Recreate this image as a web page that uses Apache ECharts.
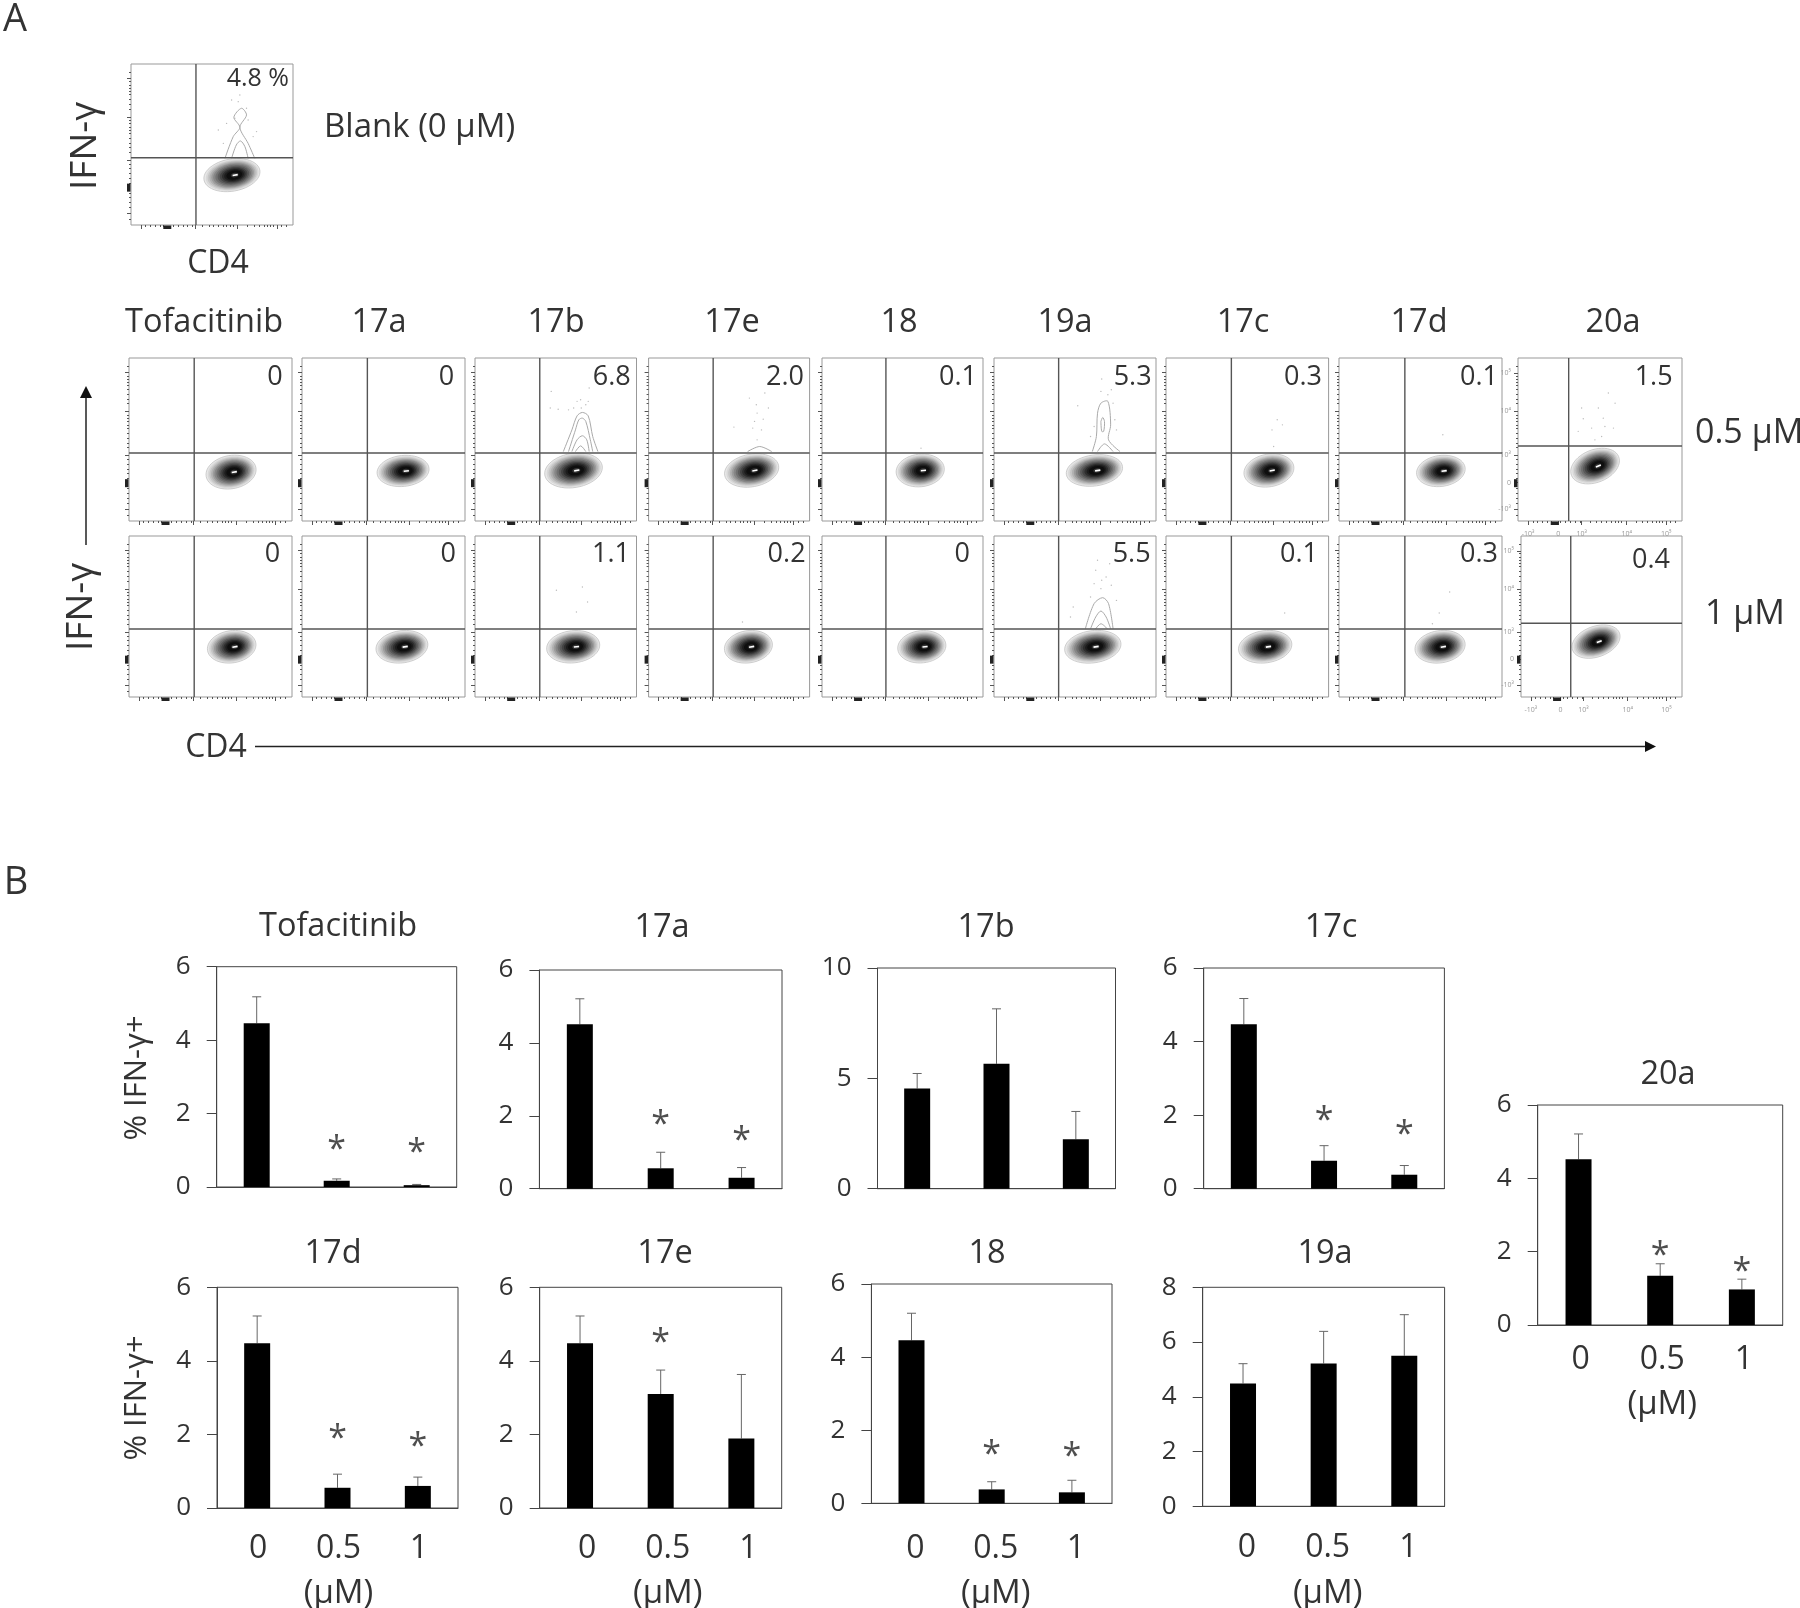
<!DOCTYPE html>
<html>
<head>
    <meta charset="utf-8">
    <title>IFN-γ CD4 flow plots and bar charts</title>
    <script src="https://cdn.jsdelivr.net/npm/echarts@6.0.0/dist/echarts.min.js"></script>
    <style>
        html, body { margin: 0; background: #fff; }
        #chart { width: 1800px; height: 1608px; filter: blur(0.5px); }
    </style>
</head>
<body>
    <div id="chart"></div>
    <script>
        // ---- panel B: bars (% IFN-γ+) ----
        const doseLabels = ['0', '0.5', '1'];
        const barNames = ['Tofacitinib', '17a', '17b', '17c', '17d', '17e', '18', '19a', '20a'];
        const barMeans = [
            [4.46, 0.17, 0.05], [4.51, 0.56, 0.30], [4.54, 5.66, 2.24],
            [4.47, 0.76, 0.38], [4.48, 0.55, 0.60], [4.48, 3.10, 1.89],
            [4.46, 0.38, 0.30], [4.49, 5.22, 5.50], [4.52, 1.34, 0.97]
        ];
        const barErrTops = [
            [5.18, 0.22, 0.07], [5.21, 1.00, 0.58], [5.22, 8.15, 3.50],
            [5.17, 1.17, 0.63], [5.22, 0.92, 0.84], [5.22, 3.75, 3.63],
            [5.20, 0.59, 0.63], [5.21, 6.39, 7.00], [5.21, 1.67, 1.25]
        ];
        const barStars = [
            [null, 1.18, 1.10], [null, 1.93, 1.49], [null, null, null],
            [null, 2.02, 1.64], [null, 2.07, 1.85], [null, 4.66, null],
            [null, 1.51, 1.44], [null, null, null], [null, 2.06, 1.64]
        ];
        const barYMax = [6, 6, 10, 6, 6, 6, 6, 8, 6];
        const barYStep = [2, 2, 5, 2, 2, 2, 2, 2, 2];

        // ---- panel A: flow plots, axes run 0-100 across each plot ----
        const flowValues = ['4.8 %',
            '0', '0', '6.8', '2.0', '0.1', '5.3', '0.3', '0.1', '1.5',
            '0', '0', '1.1', '0.2', '0', '5.5', '0.1', '0.3', '0.4'];
        const flowGateX = [40.1,
            40, 40.1, 40.1, 40.1, 39.7, 39.9, 40.2, 40.4, 30.9,
            40, 40.1, 40.1, 40.1, 39.7, 39.9, 40.2, 40.4, 30.9];
        const flowGateY = [41.8,
            41.7, 41.7, 41.7, 41.7, 41.7, 41.7, 41.7, 41.7, 46,
            42.2, 42.2, 42.2, 42.2, 42.2, 42.2, 42.2, 42.2, 45.8];
        const blobCx = [62.3,
            62.6, 62, 61, 64, 61, 62, 63.3, 62.5, 47,
            63, 61.3, 60.8, 62, 62, 61, 61, 62, 46.6];
        const blobCy = [31,
            30, 30.7, 31, 31, 31, 31, 31, 30.7, 33.7,
            31.2, 31.2, 31.2, 31.2, 31.2, 31.2, 31.2, 31.2, 34.4];
        const blobRx = [17.5,
            15.5, 16, 18, 17, 15, 17.5, 15.5, 15, 15.5,
            15, 16, 16.5, 15, 15, 17.5, 16.5, 15.5, 15.5];
        const blobRy = [10,
            10.2, 9.5, 10.5, 10, 10, 9.5, 10, 9.5, 10,
            10, 10, 10, 10, 10, 10, 10, 10, 9.5];
        const blobTilt = [10,
            10, 6, 9, 10, 6, 8, 10, 8, 22,
            9, 8, 6, 9, 6, 8, 8, 9, 20];
        const valueLabelX = [97.5,
            94.3, 93.3, 96.4, 96.5, 96.3, 97.3, 95.9, 97.5, 94.3,
            92.8, 94.5, 96, 97.5, 91.9, 96.7, 93.5, 97.5, 92.5];
        const valueLabelY = [90.7,
            88, 88, 88, 88, 88, 88, 88, 88, 88,
            88.4, 88.4, 88.4, 88.4, 88.4, 88.4, 88.4, 88.4, 84.7];

        // contour loops above the gate: panel index -> loops of [x, y]
        const tailLoops = {
            0: [
                [[58, 41.4], [63.1, 54.9], [67.2, 60.7], [63.5, 66.9], [68.2, 72.5], [71.3, 68.3], [67.2, 60.7], [72.3, 50.7], [76.4, 41.4]],
                [[62.1, 41.4], [65, 49.7], [67.6, 52.2], [70.3, 48.7], [72.3, 41.4]]
            ],
            3: [
                [[54.7, 42.6], [60, 55.9], [63.2, 64.5], [66.5, 66.6], [70.1, 64.5], [72.9, 51.8], [76.1, 42.6]],
                [[57.9, 42.6], [62.2, 55.9], [64.3, 62.1], [66.5, 63.1], [68.6, 61.1], [71.4, 49.8], [72.9, 42.6]],
                [[60, 42.6], [63.2, 49.8], [66.5, 52.3], [69.2, 49.8], [70.7, 42.6]],
                [[62.2, 42.6], [65.4, 46.1], [68.6, 42.6]]
            ],
            4: [[[61.5, 42.6], [69, 45.7], [76.5, 42.6]]],
            6: [
                [[60.7, 42.6], [63.2, 51.8], [63.9, 66.1], [66, 72.3], [70.3, 73.4], [72, 59], [70.7, 49.8], [77.8, 42.6]],
                [[66, 61.1], [67.1, 63.5], [68.2, 61.1], [67.7, 55], [66.5, 55], [66, 61.1]],
                [[63.9, 42.6], [68.2, 47.3], [73.5, 42.6]]
            ],
            15: [
                [[56.4, 42.4], [61.8, 58], [67.1, 61.7], [70.7, 58], [73.5, 42.4]],
                [[59.6, 42.4], [62.8, 49.7], [66, 53.4], [69.2, 49.7], [72, 42.4]],
                [[62.8, 42.4], [66, 45.5], [69.9, 42.4]]
            ]
        };
        // sparse events above the gate: panel index -> [x, y]
        const flowDots = {
            0: [[67.2, 80.7], [62.1, 77.6], [71.3, 72.5], [64.1, 66.3], [53.9, 59], [77.5, 58], [59, 63.1], [72.3, 65.2], [66.2, 76.6], [75.4, 54.9], [57, 50.7]],
            3: [[47.2, 79.5], [46.6, 69.3], [51.5, 68.6], [57.9, 68.2], [65.4, 74.4], [65.8, 69.3], [70.7, 81.6], [70.1, 73.4], [63.2, 73.4], [68.6, 71.3], [61.1, 69.3]],
            4: [[62.6, 75.4], [72.2, 78.5], [66.9, 71.3], [67.4, 66.2], [71.2, 62.5], [65.8, 61.1], [53, 57.6], [70.1, 55.9], [67.4, 49.8], [64.7, 57], [74.4, 69.3]],
            5: [[61.5, 44.7]],
            6: [[66.5, 87.1], [66, 79.5], [72.4, 80.5], [70.3, 77.5], [73.5, 72.3], [51.7, 70.7], [61.8, 58], [74.6, 62.1], [59.6, 51.8], [75.6, 55.9]],
            7: [[68.4, 62.1], [65.2, 55.9], [71.6, 59], [66.2, 45.7]],
            8: [[63.7, 52.9]],
            9: [[55.1, 78.5], [59.2, 72.3], [49, 69.3], [52, 63.1], [39.8, 62.7], [44.9, 57], [53, 58], [36.7, 55], [58.2, 57], [51, 51.8], [46.9, 49.8], [38.8, 69.3]],
            12: [[50.4, 66.3], [66.5, 68.3], [69.7, 59], [62.8, 52.8]],
            13: [[58.3, 46.6]],
            15: [[63.9, 84.9], [71.4, 82.8], [62.8, 78.7], [66.5, 72.5], [69.2, 74.5], [61.8, 70.4], [66, 67.3], [72.4, 69.4], [59.6, 62.1], [48.9, 55.9], [75.6, 60], [47.2, 49.7]],
            16: [[73, 52.2]],
            17: [[67.9, 65.2], [61.5, 52.2], [57.3, 45.5]]
        };

        const xMajorTicks = [6.1, 39.5, 65.7, 90];
        const yMajorTicks = [7.2, 40.2, 67.2, 91.2];
        const xMinorTicks = [9, 12, 15, 18, 20, 26, 29, 32, 35, 38, 44, 48, 51, 54, 57, 59, 61, 63, 72, 76, 79, 82, 84, 86, 88, 93, 96];
        const yMinorTicks = [3.5, 11, 14, 17, 20, 26, 29, 32, 35, 38, 45, 48, 51, 54, 57, 59, 61, 63, 65, 72, 75, 78, 81, 83, 85, 87, 89, 95];
        const zeroSpotX = 22.4;
        const zeroSpotY = 23.2;
        const logTickX = [6.1, 24.5, 38.8, 66.3, 90.4];
        const logTickXLabels = ['-10³', '0', '10³', '10⁴', '10⁵'];
        const logTickY = [7.2, 23.5, 40.2, 67.2, 90.8];
        const logTickYLabels = ['-10³', '0', '10³', '10⁴', '10⁵'];

        // contour rings, outermost first
        const ringScales = [1, 0.94, 0.88, 0.82, 0.76, 0.7, 0.63, 0.56, 0.49, 0.42, 0.35, 0.28, 0.14];
        const ringShades = ['#e8e8e8', '#d8d8d8', '#c6c6c6', '#b2b2b2', '#9c9c9c', '#868686', '#707070', '#5a5a5a', '#444', '#2e2e2e', '#1c1c1c', '#0e0e0e', '#333'];

        // [left, top, width, height] of each plot
        const flowBoxes = [
            [131, 64, 162, 161],
            [129, 358, 163, 163], [302, 358, 163, 163], [475, 358, 161.5, 163], [648.6, 358, 161, 163], [822, 358, 161, 163],
            [994, 358, 162, 163], [1166, 358, 162.6, 163], [1339, 358, 163, 163], [1518, 358, 164, 163],
            [129, 536, 163, 161], [302, 536, 163, 161], [475, 536, 161.5, 161], [648.6, 536, 161, 161], [822, 536, 161, 161],
            [994, 536, 162, 161], [1166, 536, 162.6, 161], [1339, 536, 163, 161], [1521, 536, 161, 161]
        ];
        const barBoxes = [
            [216.7, 966.7, 240, 220.3], [539.4, 970, 242.6, 218.7], [877.5, 968, 238, 220.7], [1203.7, 968, 240.7, 220.7],
            [217, 1287.3, 241, 220.7], [539.7, 1287.3, 242, 220.7], [871.4, 1284, 240.6, 219.3], [1202.7, 1287.3, 241.9, 219],
            [1537.7, 1105, 245, 220]
        ];
        // only these plots carry dose labels: plot index -> [label shift, label margin, name gap]
        const doseAxisStyle = {
            4: [1, 24.5, 69], 5: [7, 24.5, 69], 6: [4, 29.5, 74], 7: [4, 26, 71], 8: [2, 18.5, 63]
        };

        const FONT = '"Open Sans", "Noto Sans", sans-serif';
        const TEXT = '#333';

        const grid = [], xAxis = [], yAxis = [], series = [], graphic = [];

        function ellipsePoints(api, cx, cy, rx, ry, tilt) {
            const pts = [];
            const a = tilt * Math.PI / 180;
            for (let k = 0; k < 48; k++) {
                const t = k / 48 * 2 * Math.PI;
                const dx = rx * Math.cos(t), dy = ry * Math.sin(t);
                pts.push(api.coord([cx + dx * Math.cos(a) - dy * Math.sin(a), cy + dx * Math.sin(a) + dy * Math.cos(a)]));
            }
            return pts;
        }

        function renderFlow(i, api) {
            const kids = [];
            // dots and upper contours go under the gate lines
            (flowDots[i] || []).forEach(function (d) {
                const p = api.coord(d);
                kids.push({ type: 'circle', shape: { cx: p[0], cy: p[1], r: 0.7 }, style: { fill: '#bbb' } });
            });
            (tailLoops[i] || []).forEach(function (loop) {
                kids.push({
                    type: 'polyline',
                    shape: { points: loop.map(function (p) { return api.coord(p); }), smooth: 0.3 },
                    style: { fill: null, stroke: '#aaa', lineWidth: 1 }
                });
            });
            const a = blobTilt[i] * Math.PI / 180;
            const coreX = blobCx[i] + 2, coreY = blobCy[i];
            ringScales.forEach(function (s, r) {
                const cx = coreX + (blobCx[i] - coreX) * s;
                kids.push({
                    type: 'polygon',
                    shape: { points: ellipsePoints(api, cx, blobCy[i], blobRx[i] * s, blobRy[i] * s, blobTilt[i]) },
                    style: { fill: ringShades[r], stroke: r === 0 ? '#c4c4c4' : null, lineWidth: 0.8 }
                });
            });
            const c0 = api.coord([coreX - 1.6 * Math.cos(a), coreY - 1.6 * Math.sin(a)]);
            const c1 = api.coord([coreX + 1.6 * Math.cos(a), coreY + 1.6 * Math.sin(a)]);
            kids.push({ type: 'line', shape: { x1: c0[0], y1: c0[1], x2: c1[0], y2: c1[1] }, style: { stroke: '#fff', lineWidth: 1.6 } });

            const v0 = api.coord([flowGateX[i], 0]), v1 = api.coord([flowGateX[i], 100]);
            const h0 = api.coord([0, flowGateY[i]]), h1 = api.coord([100, flowGateY[i]]);
            kids.push({ type: 'line', shape: { x1: v0[0], y1: v0[1], x2: v1[0], y2: v1[1] }, style: { stroke: '#555', lineWidth: 1.4 } });
            kids.push({ type: 'line', shape: { x1: h0[0], y1: h0[1], x2: h1[0], y2: h1[1] }, style: { stroke: '#555', lineWidth: 1.4 } });

            // the pile-up of ticks at zero on both axes
            const sx = api.coord([zeroSpotX, 0]), sy = api.coord([0, zeroSpotY]);
            kids.push({ type: 'rect', shape: { x: sx[0] - 4, y: sx[1] + 0.5, width: 8, height: 3.5 }, style: { fill: '#222' } });
            kids.push({ type: 'rect', shape: { x: sy[0] - 4, y: sy[1] - 4, width: 3.5, height: 8 }, style: { fill: '#222' } });

            const lp = api.coord([valueLabelX[i], valueLabelY[i]]);
            kids.push({
                type: 'text', x: lp[0], y: lp[1],
                style: { text: flowValues[i], align: 'right', verticalAlign: 'middle', fontSize: i === 0 ? 25 : 27, fontFamily: FONT, fill: TEXT }
            });
            return { type: 'group', children: kids };
        }

        flowBoxes.forEach(function (box, i) {
            const g = grid.length;
            const lastCol = i === 9 || i === 18;
            grid.push({
                left: box[0], top: box[1], width: box[2], height: box[3],
                show: true, borderColor: '#999', borderWidth: 1, backgroundColor: '#fff',
                containLabel: false, outerBoundsMode: 'none'
            });
            const xTicks = lastCol ? logTickX : xMajorTicks;
            const yTicks = lastCol ? logTickY : yMajorTicks;
            [0, 1].forEach(function (minor) {
                xAxis.push({
                    gridIndex: g, type: 'value', min: 0, max: 100, position: 'bottom',
                    splitLine: { show: false }, axisLine: { show: false },
                    axisTick: {
                        show: true, length: minor ? 2 : 4, lineStyle: { color: '#555', width: 1 },
                        customValues: minor ? xMinorTicks : xTicks
                    },
                    axisLabel: (lastCol && !minor) ? {
                        show: true, customValues: logTickX, margin: 9, fontSize: 7, color: '#999', fontFamily: FONT,
                        formatter: function (v) { return logTickXLabels[logTickX.indexOf(v)]; }
                    } : { show: false }
                });
                yAxis.push({
                    gridIndex: g, type: 'value', min: 0, max: 100, position: 'left',
                    splitLine: { show: false }, axisLine: { show: false },
                    axisTick: {
                        show: true, length: minor ? 2 : 4, lineStyle: { color: '#555', width: 1 },
                        customValues: minor ? yMinorTicks : yTicks
                    },
                    axisLabel: (lastCol && !minor) ? {
                        show: true, customValues: logTickY, margin: 7, fontSize: 7, color: '#999', fontFamily: FONT,
                        formatter: function (v) { return logTickYLabels[logTickY.indexOf(v)]; }
                    } : { show: false }
                });
            });
            series.push({
                type: 'custom', xAxisIndex: xAxis.length - 2, yAxisIndex: yAxis.length - 2,
                coordinateSystem: 'cartesian2d', silent: true, clip: false,
                data: [[blobCx[i], blobCy[i]]],
                renderItem: function (params, api) { return renderFlow(i, api); }
            });
        });

        barNames.forEach(function (name, i) {
            const box = barBoxes[i];
            const g = grid.length;
            const dose = doseAxisStyle[i];
            grid.push({
                left: box[0], top: box[1], width: box[2], height: box[3],
                show: true, borderColor: '#444', borderWidth: 1,
                containLabel: false, outerBoundsMode: 'none'
            });
            xAxis.push({
                gridIndex: g, type: 'category', data: doseLabels,
                axisLine: { lineStyle: { color: '#444', width: 1 } },
                axisTick: { show: false },
                axisLabel: dose ? {
                    show: true, margin: dose[1], fontSize: 32, color: TEXT, fontFamily: FONT,
                    padding: [0, 0, 0, dose[0] * 2]
                } : { show: false },
                name: dose ? '(μM)' : '', nameLocation: 'middle', nameGap: dose ? dose[2] : 0,
                nameTextStyle: { fontSize: 33, color: TEXT, fontFamily: FONT, padding: dose ? [0, 0, 0, dose[0] * 2] : 0 }
            });
            yAxis.push({
                gridIndex: g, type: 'value', min: 0, max: barYMax[i], interval: barYStep[i],
                splitLine: { show: false },
                axisLine: { show: true, lineStyle: { color: '#444', width: 1 } },
                axisTick: { show: true, length: 10, lineStyle: { color: '#444', width: 1 } },
                axisLabel: { margin: 26, fontSize: 26, color: TEXT, fontFamily: FONT, padding: [8, 0, 0, 0] }
            });
            const xi = xAxis.length - 1, yi = yAxis.length - 1;
            series.push({
                type: 'bar', xAxisIndex: xi, yAxisIndex: yi, barWidth: 26, silent: true,
                itemStyle: { color: '#000' }, data: barMeans[i]
            });
            series.push({
                type: 'custom', xAxisIndex: xi, yAxisIndex: yi, silent: true,
                data: barMeans[i].map(function (m, k) { return [k, barErrTops[i][k], m]; }),
                renderItem: function (params, api) {
                    const top = api.coord([api.value(0), api.value(1)]);
                    const bottom = api.coord([api.value(0), api.value(2)]);
                    const line = { stroke: '#666', lineWidth: 1 };
                    return {
                        type: 'group', children: [
                            { type: 'line', shape: { x1: top[0], y1: top[1], x2: bottom[0], y2: bottom[1] }, style: line },
                            { type: 'line', shape: { x1: top[0] - 4.5, y1: top[1], x2: top[0] + 4.5, y2: top[1] }, style: line }
                        ]
                    };
                }
            });
            series.push({
                type: 'scatter', xAxisIndex: xi, yAxisIndex: yi, silent: true, symbolSize: 1,
                itemStyle: { color: 'transparent' },
                data: barStars[i].map(function (v, k) { return v === null ? null : [k, v]; }).filter(Boolean),
                label: {
                    show: true, position: 'inside', formatter: '*', offset: [0, 7],
                    fontSize: 34, color: '#222', fontFamily: FONT
                }
            });
        });

        function addText(text, x, y, size, opts) {
            opts = opts || {};
            graphic.push({
                type: 'text', x: x, y: y, rotation: opts.rotation || 0, silent: true,
                style: {
                    text: text, fontSize: size, fontFamily: FONT, fill: TEXT,
                    align: opts.align || 'center', verticalAlign: 'middle'
                }
            });
        }
        function addArrow(x1, y1, x2, y2) {
            const horizontal = y1 === y2;
            graphic.push({ type: 'line', silent: true, shape: { x1: x1, y1: y1, x2: horizontal ? x2 - 8 : x2, y2: horizontal ? y2 : y2 + 8 }, style: { stroke: '#222', lineWidth: 1.5 } });
            graphic.push({
                type: 'polygon', silent: true,
                shape: { points: horizontal ? [[x2, y2], [x2 - 11, y2 - 5.5], [x2 - 11, y2 + 5.5]] : [[x2, y2], [x2 - 6, y2 + 12], [x2 + 6, y2 + 12]] },
                style: { fill: '#111' }
            });
        }

        addText('A', 15, 20, 38);
        addText('B', 16, 883, 38);
        addText('IFN-γ', 85, 146, 37, { rotation: Math.PI / 2 });
        addText('CD4', 218, 264, 32);
        addText('Blank (0 μM)', 324, 128, 33, { align: 'left' });
        addText('IFN-γ', 81, 607, 37, { rotation: Math.PI / 2 });
        addText('CD4', 216, 748, 32);
        addText('0.5 μM', 1695, 433, 34, { align: 'left' });
        addText('1 μM', 1705, 614, 34, { align: 'left' });
        addText('% IFN-γ+', 137, 1078, 31, { rotation: Math.PI / 2 });
        addText('% IFN-γ+', 137, 1398, 31, { rotation: Math.PI / 2 });
        addArrow(86, 545, 86, 386);
        addArrow(255, 746.5, 1656, 746.5);

        const flowTitles = ['Tofacitinib', '17a', '17b', '17e', '18', '19a', '17c', '17d', '20a'];
        const flowTitleX = [204, 379, 556, 732, 899, 1065, 1243, 1419, 1613];
        flowTitles.forEach(function (t, i) { addText(t, flowTitleX[i], 323, 32.5); });

        const barTitleX = [338, 662, 986, 1331, 333, 665, 987, 1325, 1668];
        const barTitleY = [927, 928, 928, 928, 1254, 1254, 1254, 1254, 1075];
        barNames.forEach(function (t, i) { addText(t, barTitleX[i], barTitleY[i], 32.5); });

        const chart = echarts.init(document.getElementById('chart'));
        chart.setOption({
            animation: false,
            backgroundColor: '#fff',
            grid: grid, xAxis: xAxis, yAxis: yAxis, series: series, graphic: graphic
        });
    </script>
</body>
</html>
